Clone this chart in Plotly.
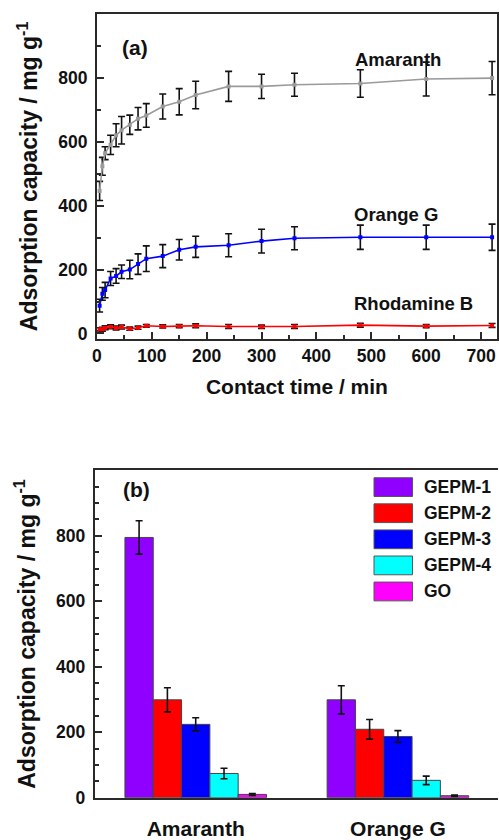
import plotly.graph_objects as go

# ---------------- data: panel (a) kinetics ----------------
time_min = [5, 10, 15, 25, 35, 45, 60, 75, 90, 120, 150, 180, 240, 300, 360, 480, 600, 720]
amaranth = [446, 523, 564, 590, 620, 636, 653, 672, 682, 710, 725, 746, 773, 773, 778, 782, 796, 799]
amaranth_err = [30, 28, 20, 30, 36, 43, 30, 35, 37, 39, 41, 43, 47, 38, 36, 43, 53, 52]
orange_g = [87, 124, 136, 172, 180, 193, 200, 217, 234, 242, 262, 271, 276, 289, 298, 301, 301, 301]
orange_g_err = [20, 20, 24, 22, 23, 21, 29, 32, 40, 36, 32, 33, 36, 37, 36, 38, 38, 41]
rhodamine_b = [13, 13, 18, 21, 17, 20, 15, 18, 24, 22, 23, 24, 22, 21, 22, 26, 23, 25]
rhodamine_b_err = [5, 6, 6, 6, 6, 6, 5, 5, 4, 5, 5, 6, 6, 5, 6, 6, 5, 6]

# ---------------- data: panel (b) adsorbents ----------------
dyes = ["Amaranth", "Orange G"]
adsorbents = ["GEPM-1", "GEPM-2", "GEPM-3", "GEPM-4", "GO"]
gepm1 = [795, 299]
gepm1_err = [51, 43]
gepm2 = [299, 209]
gepm2_err = [37, 30]
gepm3 = [224, 187]
gepm3_err = [20, 18]
gepm4 = [74, 53]
gepm4_err = [16, 13]
go_vals = [10, 6]
go_err = [3, 2]

W, H = 499, 840
FONT = "Liberation Sans, Arial, sans-serif"
AX = "#2a2a2a"

fig = go.Figure()

line_series = [
    ("Amaranth", amaranth, amaranth_err, "#9a9a9a"),
    ("Orange G", orange_g, orange_g_err, "#0000ff"),
    ("Rhodamine B", rhodamine_b, rhodamine_b_err, "#ff0000"),
]
for name, vals, errs, col in line_series:
    fig.add_trace(go.Scatter(
        x=time_min, y=vals, name=name, mode="lines+markers",
        line=dict(color=col, width=1.6),
        marker=dict(symbol="square", size=4, color=col),
        error_y=dict(type="data", array=errs, visible=True, color="#111111",
                     thickness=1.6, width=3.5),
        xaxis="x", yaxis="y", showlegend=False,
    ))

bar_vals = [gepm1, gepm2, gepm3, gepm4, go_vals]
bar_errs = [gepm1_err, gepm2_err, gepm3_err, gepm4_err, go_err]
bar_colors = ["#8f00ff", "#ff0000", "#0000ff", "#00ffff", "#ff00ff"]
for name, vals, errs, col in zip(adsorbents, bar_vals, bar_errs, bar_colors):
    fig.add_trace(go.Bar(
        x=dyes, y=vals, name=name,
        marker=dict(color=col, line=dict(color="#444444", width=1)),
        error_y=dict(type="data", array=errs, visible=True, color="#111111",
                     thickness=1.6, width=3.5),
        xaxis="x2", yaxis="y2", showlegend=False,
    ))

def px_x(p):
    return p / W

def px_y(p):
    return 1 - p / H

tickfont = dict(family=FONT, size=17.5, color="#111111", weight="bold")
xtitlefont = dict(family=FONT, size=21, color="#111111", weight="bold")
ytitlefont = dict(family=FONT, size=23, color="#111111", weight="bold")
ytitle = "Adsorption capacity / mg g<sup>-1</sup>"

fig.update_layout(
    width=W, height=H,
    margin=dict(l=0, r=0, t=0, b=0),
    paper_bgcolor="white", plot_bgcolor="white",
    barmode="group", bargap=0.3, bargroupgap=0,
    font=dict(family=FONT),
    xaxis=dict(
        domain=[px_x(93), px_x(498)], anchor="y",
        range=[0, 729], tickmode="linear", tick0=0, dtick=100,
        ticks="inside", ticklen=7, tickwidth=1.5, tickcolor=AX,
        minor=dict(ticks="inside", ticklen=4, tickwidth=1.5, tickcolor=AX, dtick=50),
        showline=True, linecolor=AX, linewidth=1.8, mirror=True,
        showgrid=False, zeroline=False, tickfont=tickfont,
        title=dict(text="Contact time / min", font=xtitlefont, standoff=14),
    ),
    yaxis=dict(
        domain=[px_y(343), px_y(14)], anchor="x",
        range=[-17, 1000], tickmode="array", tickvals=[0, 200, 400, 600, 800],
        ticks="inside", ticklen=7, tickwidth=1.5, tickcolor=AX,
        minor=dict(ticks="inside", ticklen=4, tickwidth=1.5, tickcolor=AX,
                   tickvals=[100, 300, 500, 700, 900]),
        showline=True, linecolor=AX, linewidth=1.8, mirror=True,
        showgrid=False, zeroline=False, tickfont=tickfont, ticklabelstandoff=4,
        title=dict(text=ytitle, font=ytitlefont, standoff=14),
    ),
    xaxis2=dict(
        domain=[px_x(90.7), 1.0], anchor="y2",
        range=[-0.5, 1.495], ticks="",
        showline=True, linecolor=AX, linewidth=1.8, mirror=True,
        showgrid=False, zeroline=False,
        tickfont=dict(family=FONT, size=21, color="#111111", weight="bold"),
        ticklabelstandoff=11,
    ),
    yaxis2=dict(
        domain=[px_y(807.3), px_y(476)], anchor="x2",
        range=[0, 1000], tickmode="array", tickvals=[0, 200, 400, 600, 800],
        ticks="inside", ticklen=7, tickwidth=1.5, tickcolor=AX,
        minor=dict(ticks="inside", ticklen=4, tickwidth=1.5, tickcolor=AX, dtick=50, tick0=0),
        showline=True, linecolor=AX, linewidth=1.8, mirror=False,
        showgrid=False, zeroline=False, tickfont=tickfont, ticklabelstandoff=4,
        title=dict(text=ytitle, font=ytitlefont, standoff=14),
    ),
)

annfont = dict(family=FONT, size=18.5, color="#111111", weight="bold")
fig.add_annotation(text="Amaranth", x=549, y=857, xref="x", yref="y", showarrow=False, font=annfont)
fig.add_annotation(text="Orange G", x=545, y=373, xref="x", yref="y", showarrow=False, font=annfont)
fig.add_annotation(text="Rhodamine B", x=577, y=93, xref="x", yref="y", showarrow=False, font=annfont)

panelfont = dict(family=FONT, size=21, color="#111111", weight="bold")
fig.add_annotation(text="(a)", x=px_x(116), y=px_y(34), xref="paper", yref="paper",
                   showarrow=False, font=panelfont)
fig.add_annotation(text="(b)", x=px_x(117), y=px_y(495), xref="paper", yref="paper",
                   showarrow=False, font=panelfont)

# custom legend with large swatches (panel b)
legfont = dict(family=FONT, size=17.5, color="#111111", weight="bold")
for i, (name, col) in enumerate(zip(adsorbents, bar_colors)):
    cy = 493 + i * 26.4
    fig.add_shape(type="rect", xref="paper", yref="paper",
                  x0=px_x(373.5), x1=px_x(412.5), y0=px_y(cy + 9.5), y1=px_y(cy - 9.5),
                  fillcolor=col, line=dict(color="#555555", width=1))
    fig.add_annotation(text=name, x=px_x(422), y=px_y(cy), xref="paper", yref="paper",
                       xanchor="left", yanchor="middle", showarrow=False, font=legfont)

fig.write_html(
    "out.html",
    config={"displayModeBar": False},
    post_script="document.body.style.margin='0';document.body.style.overflow='hidden';",
)
